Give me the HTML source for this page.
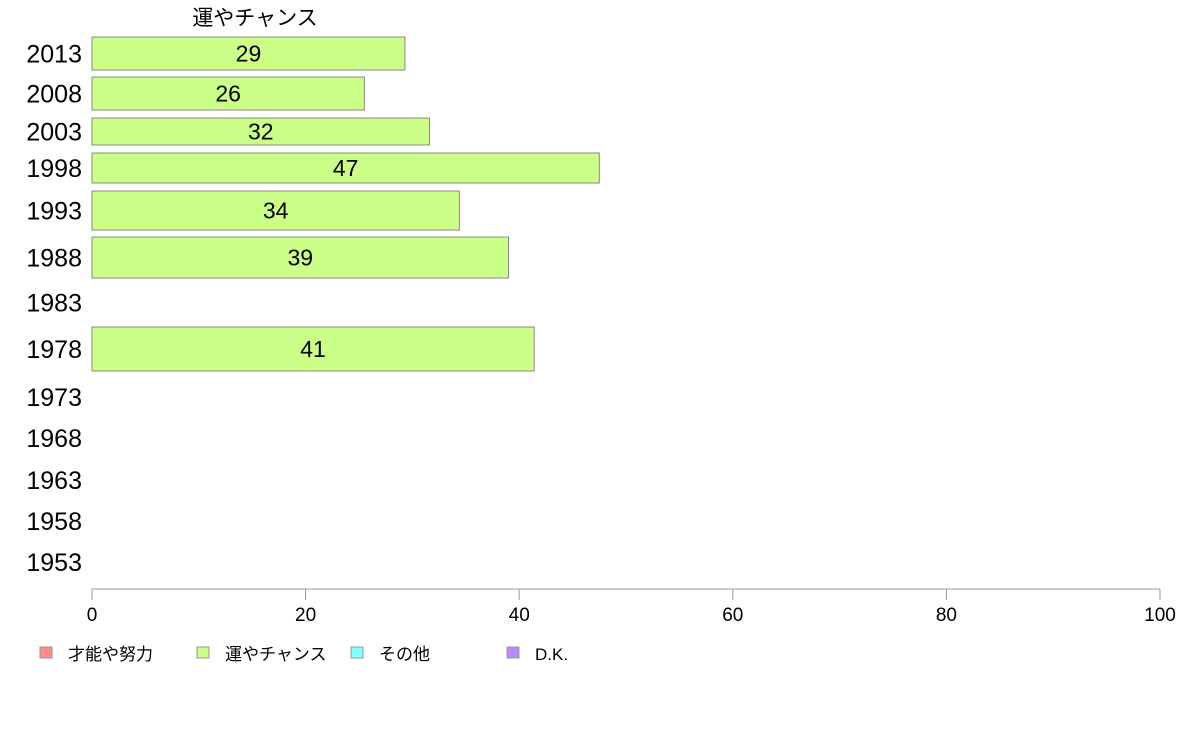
<!DOCTYPE html>
<html><head><meta charset="utf-8">
<style>
body{margin:0;background:#fff;}
svg{display:block;font-family:"Liberation Sans","Noto Sans CJK JP",sans-serif;}
</style></head><body>
<svg id="chart" width="1188" height="736" viewBox="0 0 1188 736"></svg>
<script>
const years = ["2013","2008","2003","1998","1993","1988","1983","1978","1973","1968","1963","1958","1953"];
const luckValues = [29.3, 25.5, 31.6, 47.5, 34.4, 39.0, null, 41.4, null, null, null, null, null];
const luckLabels = ["29","26","32","47","34","39","","41","","","","",""];
const xTicks = [0,20,40,60,80,100];
const legendLabels = ["才能や努力","運やチャンス","その他","D.K."];
const legendColors = ["#ff8c8c","#ccff88","#88ffff","#bb88ff"];

// layout (row bands, pixels)
const bandTop = [37,77,118,153,191,237,285,327,380,421,463,504,545];
const bandBot = [70,110,145,183,230,278,320,371,414,455,497,538,579];
const x0=92, x1=1160, axisY=589;
const xs = v => x0 + (x1-x0)*v/100;
const NS="http://www.w3.org/2000/svg";
const svg=document.getElementById('chart');
function mk(tag,attrs,parent){const e=document.createElementNS(NS,tag);for(const k in attrs)e.setAttribute(k,attrs[k]);(parent||svg).appendChild(e);return e;}

const title=mk('text',{x:255,y:25,'font-size':21,'text-anchor':'middle'});


title.textContent='運やチャンス';

years.forEach((y,i)=>{
  const cy=(bandTop[i]+bandBot[i])/2;
  const t=mk('text',{x:82,y:cy+9,'font-size':25,'text-anchor':'end'});
  
  
  t.textContent=y;
  if(luckValues[i]!=null){
    const r=mk('rect',{x:x0,y:bandTop[i],width:xs(luckValues[i])-x0,height:bandBot[i]-bandTop[i],fill:'#ccff88',stroke:'#888','stroke-width':1});
    
    
    const v=mk('text',{x:(x0+xs(luckValues[i]))/2,y:cy+8,'font-size':23,'text-anchor':'middle'});
    
    
    v.textContent=luckLabels[i];
  }
});

const ax=mk('line',{x1:x0,x2:x1,y1:axisY,y2:axisY,stroke:'#999','stroke-width':1});


xTicks.forEach(t=>{
  const l=mk('line',{x1:xs(t),x2:xs(t),y1:axisY,y2:axisY+11,stroke:'#999','stroke-width':1});
  
  
  const tx=mk('text',{x:xs(t),y:621,'font-size':19,'text-anchor':'middle'});
  
  
  tx.textContent=t;
});

const legX=[40,197,351,507];
legendLabels.forEach((lab,i)=>{
  const s=mk('rect',{x:legX[i],y:647,width:12,height:11,fill:legendColors[i],stroke:'#999','stroke-width':1});
  
  
  const t=mk('text',{x:legX[i]+28,y:660,'font-size':17});
  
  
  t.textContent=lab;
});
</script>
</body></html>
